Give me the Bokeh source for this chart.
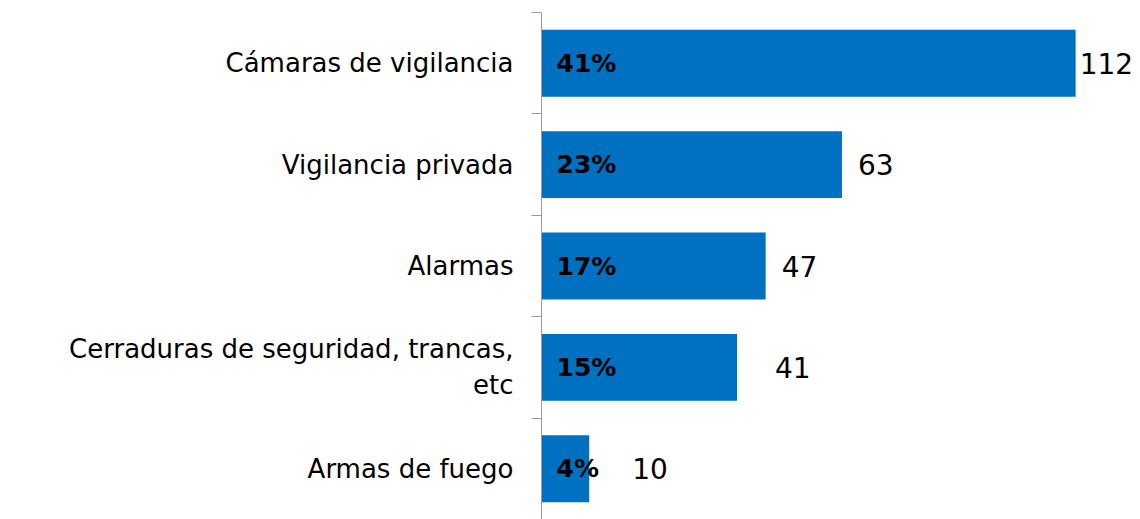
from bokeh.plotting import figure
from bokeh.models import (ColumnDataSource, Range1d, FactorRange, LinearAxis,
                          CategoricalAxis, FixedTicker)
from bokeh.core.properties import value
from bokeh.embed import file_html
from bokeh.resources import INLINE

# ---- data ----
categories = ["Cámaras de vigilancia", "Vigilancia privada", "Alarmas",
              "Cerraduras de seguridad, trancas,\netc", "Armas de fuego"]
counts = [112, 63, 47, 41, 10]
percents = ["41%", "23%", "17%", "15%", "4%"]
count_labels = ["112", "63", "47", "41", "10"]
boundary_ticks = [0, 1, 2, 3, 4, 5]

# ---- style ----
BAR = "#0070C0"
FONT = "DejaVu Sans"
label_px_offsets = [4, 16, 16, 38, 43]

src = ColumnDataSource(dict(cat=categories, n=counts, pct=percents,
                            lab=count_labels, off=label_px_offsets))

p = figure(width=1140, height=519, output_backend="svg", toolbar_location=None,
           y_range=FactorRange(factors=categories[::-1]),
           x_range=Range1d(0, 125.6),
           x_axis_location=None, y_axis_location=None,
           min_border_top=12, min_border_bottom=0, min_border_right=0,
           min_border_left=541)
p.outline_line_color = None
p.grid.visible = False
p.background_fill_color = "white"
p.border_fill_color = "white"

p.hbar(y="cat", right="n", left=0, height=0.66, source=src,
       fill_color=BAR, line_color=None)

p.text(x=0, y="cat", text="pct", source=src, x_offset=15,
       text_font=value(FONT), text_font_style="bold", text_font_size="25px",
       text_baseline="middle", text_align="left", text_color="black")

p.text(x="n", y="cat", text="lab", source=src, x_offset="off",
       text_font=value(FONT), text_font_size="28px",
       text_baseline="middle", text_align="left", text_color="black")

# axis with ticks at category boundaries (synthetic coordinates 0..5)
tick_axis = LinearAxis(ticker=FixedTicker(ticks=boundary_ticks, minor_ticks=[]),
                       major_label_overrides={t: "" for t in boundary_ticks},
                       axis_line_color="#9a9a9a", major_tick_line_color="#9a9a9a",
                       major_tick_out=10, major_tick_in=0,
                       minor_tick_line_color=None, major_label_standoff=0)
p.add_layout(tick_axis, "left")

cat_axis = CategoricalAxis(axis_line_color=None, major_tick_line_color=None,
                           major_label_text_font=FONT,
                           major_label_text_font_size="26px",
                           major_label_text_color="black",
                           major_label_standoff=12)
p.add_layout(cat_axis, "left")

open("out.html", "w").write(file_html(p, INLINE))
